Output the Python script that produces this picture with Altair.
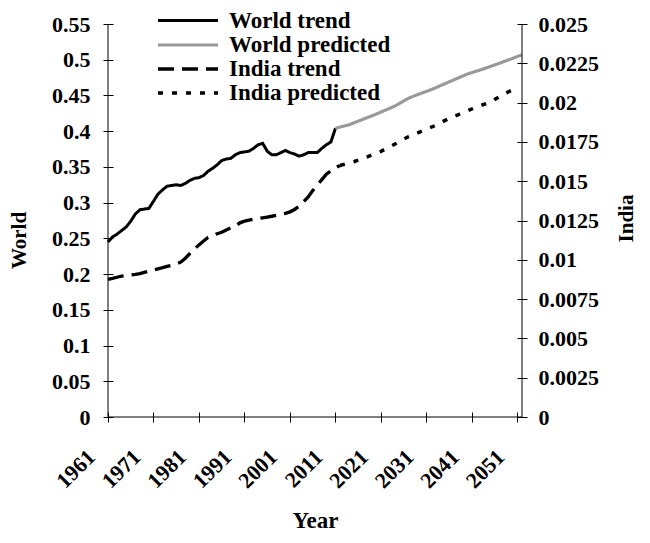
import altair as alt
import pandas as pd

# ---------------- data ----------------
world_trend_years = list(range(1961, 2012))
world_trend_vals = [
    0.245, 0.252, 0.256, 0.261, 0.266, 0.274, 0.284, 0.290, 0.291, 0.292,
    0.302, 0.312, 0.318, 0.323, 0.324, 0.325, 0.324, 0.327, 0.331, 0.334,
    0.335, 0.338, 0.344, 0.348, 0.353, 0.359, 0.361, 0.362, 0.367, 0.370,
    0.371, 0.372, 0.376, 0.381, 0.383, 0.372, 0.367, 0.367, 0.370, 0.373,
    0.370, 0.368, 0.365, 0.367, 0.370, 0.370, 0.370, 0.376, 0.381, 0.385,
    0.404,
]
world_pred_years = [2011, 2014, 2018, 2020, 2024, 2027, 2029, 2032, 2036,
                    2040, 2043, 2047, 2050, 2052]
world_pred_vals = [0.404, 0.409, 0.419, 0.424, 0.435, 0.446, 0.451, 0.458,
                   0.469, 0.480, 0.486, 0.495, 0.502, 0.507]

india_trend_years = list(range(1961, 2013))
india_trend_vals = [
    0.00876, 0.00882, 0.00889, 0.00896, 0.00901, 0.00904, 0.00907, 0.00912,
    0.00920, 0.00928, 0.00936, 0.00943, 0.00950, 0.00958, 0.00965, 0.00974,
    0.00985, 0.01010, 0.01040, 0.01068, 0.01095, 0.01120, 0.01142, 0.01155,
    0.01166, 0.01175, 0.01190, 0.01203, 0.01215, 0.01235, 0.01246, 0.01252,
    0.01258, 0.01262, 0.01267, 0.01272, 0.01277, 0.01283, 0.01289, 0.01295,
    0.01305, 0.01320, 0.01340, 0.01370, 0.01400, 0.01440, 0.01475, 0.01510,
    0.01545, 0.01565, 0.01585, 0.01600,
]
india_pred_years = [2012, 2015, 2018, 2021, 2024, 2027, 2030, 2033, 2036,
                    2039, 2042, 2045, 2048, 2051]
india_pred_vals = [0.01600, 0.01624, 0.01655, 0.01690, 0.01735, 0.01783,
                   0.01818, 0.01855, 0.01900, 0.01935, 0.01972, 0.02003,
                   0.02055, 0.02095]

series_names = ["World trend", "World predicted", "India trend", "India predicted"]
series_colors = ["#000000", "#999999", "#000000", "#000000"]
series_dashes = [[1, 0], [1, 0], [16, 8], [5, 9]]
series_widths = [3, 3.5, 3.5, 3.5]

x_ticks = [1961, 1971, 1981, 1991, 2001, 2011, 2021, 2031, 2041, 2051]
world_ticks = [0, 0.05, 0.1, 0.15, 0.2, 0.25, 0.3, 0.35, 0.4, 0.45, 0.5, 0.55]
india_ticks = [0, 0.0025, 0.005, 0.0075, 0.01, 0.0125, 0.015, 0.0175, 0.02,
               0.0225, 0.025]

FONT = "Liberation Serif"
W, H = 414, 393

world_df = pd.concat([
    pd.DataFrame({"year": world_trend_years, "value": world_trend_vals,
                  "series": "World trend"}),
    pd.DataFrame({"year": world_pred_years, "value": world_pred_vals,
                  "series": "World predicted"}),
])
india_df = pd.concat([
    pd.DataFrame({"year": india_trend_years, "value": india_trend_vals,
                  "series": "India trend"}),
    pd.DataFrame({"year": india_pred_years, "value": india_pred_vals,
                  "series": "India predicted"}),
])

# long horizontal line used as legend symbol (unit path scaled by size)
legend_def = alt.Legend(
    title=None, orient="none", legendX=68, legendY=-15,
    symbolType="M-3,0H3", symbolSize=400, symbolStrokeWidth=3,
    labelFont=FONT, labelFontSize=23, labelFontWeight="bold",
    labelColor="black", labelOffset=29, labelLimit=400,
    rowPadding=0, padding=0,
)

color_enc = alt.Color("series:N",
                      scale=alt.Scale(domain=series_names, range=series_colors),
                      legend=legend_def)
dash_enc = alt.StrokeDash("series:N",
                          scale=alt.Scale(domain=series_names, range=series_dashes),
                          legend=legend_def)
width_enc = alt.StrokeWidth("series:N",
                            scale=alt.Scale(domain=series_names, range=series_widths),
                            legend=None)

axis_font = dict(labelFont=FONT, labelFontSize=22, labelFontWeight="bold",
                 labelColor="black", titleFont=FONT, titleFontSize=21,
                 titleFontWeight="bold", titleColor="black",
                 tickColor="black", tickWidth=1)

x_enc = alt.X(
    "year:Q",
    scale=alt.Scale(domain=[1961, 2052], nice=False, zero=False),
    axis=alt.Axis(
        values=x_ticks, format="d", labelAngle=-45, labelAlign="right",
        labelBaseline="middle", labelPadding=31, labelOffset=-17,
        tickSize=10, offset=-5, domain=False, grid=False,
        labelOverlap=False, labelFlush=False, labelBound=False,
        title="Year", titleY=97, titleBaseline="top",
        **{**axis_font, "titleFontSize": 23},
    ),
)

world_layer = alt.Chart(world_df).mark_line(strokeCap="butt").encode(
    x=x_enc,
    y=alt.Y("value:Q", scale=alt.Scale(domain=[0, 0.55], nice=False),
            axis=alt.Axis(orient="left", values=world_ticks, format=".3~r",
                          offset=-5, tickSize=10, labelPadding=13,
                          domain=False, grid=False, title="World",
                          titleAngle=270, titleX=-84, titleY=216,
                          titleBaseline="bottom", **axis_font)),
    color=color_enc, strokeDash=dash_enc, strokeWidth=width_enc,
)

india_layer = alt.Chart(india_df).mark_line(strokeCap="butt").encode(
    x=x_enc,
    y=alt.Y("value:Q", scale=alt.Scale(domain=[0, 0.025], nice=False),
            axis=alt.Axis(orient="right", values=india_ticks, format=".4~r",
                          offset=-5, tickSize=10, labelPadding=11,
                          domain=False, grid=False, title="India",
                          titleAngle=270, titleX=119, titleY=194,
                          titleBaseline="bottom", **axis_font)),
    color=color_enc, strokeDash=dash_enc, strokeWidth=width_enc,
)

anchor = pd.DataFrame({"k": [0]})
left_line = alt.Chart(anchor).mark_rule(color="black", strokeWidth=1).encode(
    x=alt.value(0), y=alt.value(0), y2=alt.value(H))
right_line = alt.Chart(anchor).mark_rule(color="black", strokeWidth=1).encode(
    x=alt.value(W), y=alt.value(0), y2=alt.value(H))
bottom_line = alt.Chart(anchor).mark_rule(color="black", strokeWidth=1).encode(
    x=alt.value(0), x2=alt.value(W), y=alt.value(H))

chart = alt.layer(world_layer, india_layer, left_line, right_line, bottom_line).resolve_scale(
    y="independent"
).properties(
    width=W, height=H,
    background="white",
    autosize=alt.AutoSizeParams(type="none"),
    padding={"left": 100, "top": 16, "right": 120, "bottom": 118},
).configure_view(stroke=None)

chart.save("out.html", embed_options={"renderer": "svg", "actions": False})
